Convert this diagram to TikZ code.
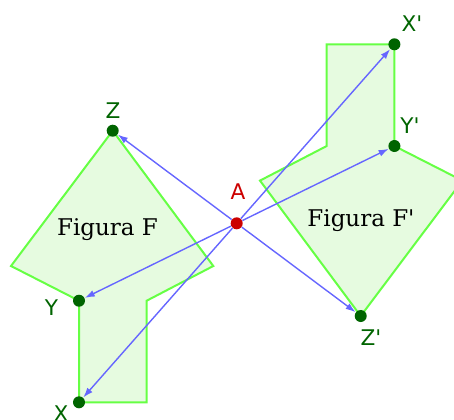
\documentclass[tikz,border=0pt]{standalone}
\usepackage{fontspec}
\setsansfont{DejaVu Sans}
\newfontfamily\figfont{DejaVu Serif}
\usetikzlibrary{arrows.meta}

\definecolor{figgreen}{HTML}{66FF44}
\definecolor{figfill}{HTML}{E6FBE0}
\definecolor{ptgreen}{HTML}{006400}
\definecolor{vecblue}{HTML}{6666FF}
\definecolor{ptred}{HTML}{CC0000}

\begin{document}
\begin{tikzpicture}[x=0.5pt, y=-0.5pt,
    fig/.style={draw=figgreen, fill=figfill, line width=1pt},
    pt/.style={circle, fill=ptgreen, inner sep=0pt, minimum size=6pt},
    lbl/.style={font=\sffamily\fontsize{10.8}{12}\selectfont, text=ptgreen},
    figlbl/.style={font=\figfont\fontsize{11.5}{13}\selectfont, anchor=base},
    vec/.style={vecblue, line width=0.7pt, -{Latex[length=5pt, width=3.4pt]}}]
    \useasboundingbox (0,0) rectangle (454,419);
    \clip (0,0) rectangle (454,419);

    % figure F and its image F'
    \filldraw[fig] (112.7,130.7) -- (213.3,266) -- (146.7,300.7) -- (146.7,402.3)
        -- (79,402.3) -- (79,300.7) -- (11,266) -- cycle;
    \filldraw[fig] (360.7,316) -- (260,180.6) -- (326.7,146) -- (326.7,44.3)
        -- (394.4,44.3) -- (394.4,146) -- (462.4,180.6) -- cycle;

    \node[figlbl] (figF)  at (107.5,235)   {Figura F};
    \node[figlbl] (figFp) at (361,226.7)   {Figura F\textquotesingle};

    \node[pt, fill=ptred] (A) at (236.7,223.3) {};
    \node[pt] (Z)  at (112.7,130.7) {};
    \node[pt] (Y)  at (79,300.7)    {};
    \node[pt] (X)  at (79,402.3)    {};
    \node[pt] (Zp) at (360.7,316)   {};
    \node[pt] (Yp) at (394.4,146)   {};
    \node[pt] (Xp) at (394.4,44.3)  {};

    \foreach \p in {Z, Y, X, Zp, Yp, Xp}
        \draw[vec] (A) -- (\p);

    \node[lbl, text=ptred] (Albl) at (238,192) {A};
    \node[lbl] (Zlbl)  at (113,111)   {Z};
    \node[lbl] (Ylbl)  at (51.5,308)  {Y};
    \node[lbl] (Xlbl)  at (61,414)    {X};
    \node[lbl] (Zplbl) at (371,338)   {Z\textquotesingle};
    \node[lbl] (Yplbl) at (410,126)   {Y\textquotesingle};
    \node[lbl] (Xplbl) at (412,23.3)  {X\textquotesingle};
\end{tikzpicture}
\end{document}
